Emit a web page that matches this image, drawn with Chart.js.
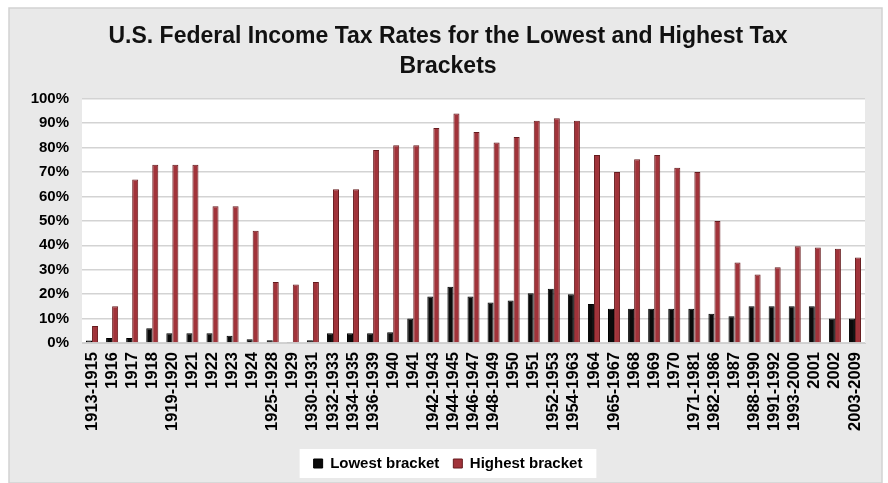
<!DOCTYPE html>
<html>
<head>
<meta charset="utf-8">
<script src="https://cdn.jsdelivr.net/npm/chart.js@4.4.3/dist/chart.umd.min.js"></script>
<style>
  html, body { margin: 0; padding: 0; background: #fff; }
  #wrap { width: 888px; height: 483px; }
</style>
</head>
<body>
<div id="wrap"><canvas id="taxChart" width="888" height="483"></canvas></div>
<script>
const years = [
  '1913-1915', '1916', '1917', '1918', '1919-1920', '1921', '1922', '1923', '1924', '1925-1928',
  '1929', '1930-1931', '1932-1933', '1934-1935', '1936-1939', '1940', '1941', '1942-1943', '1944-1945', '1946-1947',
  '1948-1949', '1950', '1951', '1952-1953', '1954-1963', '1964', '1965-1967', '1968', '1969', '1970',
  '1971-1981', '1982-1986', '1987', '1988-1990', '1991-1992', '1993-2000', '2001', '2002', '2003-2009'
];
const lowestRate = [
  1, 2, 2, 6, 4, 4, 4, 3, 1.5, 1.125,
  0.375, 1.125, 4, 4, 4, 4.4, 10, 19, 23, 19,
  16.6, 17.4, 20.4, 22.2, 20, 16, 14, 14, 14, 14,
  14, 12, 11, 15, 15, 15, 15, 10, 10
];
const highestRate = [
  7, 15, 67, 73, 73, 73, 56, 56, 46, 25,
  24, 25, 63, 63, 79, 81, 81, 88, 94, 86.45,
  82.13, 84.36, 91, 92, 91, 77, 70, 75.25, 77, 71.75,
  70, 50, 33, 28, 31, 39.6, 39.1, 38.6, 35
];

const FONT = "'Liberation Sans', Arial, sans-serif";

// gray panel, white plot area, white legend box
const backdrop = {
  id: 'backdrop',
  beforeDraw(chart) {
    const { ctx, chartArea: a, width, height } = chart;
    ctx.save();
    ctx.fillStyle = '#fff';
    ctx.fillRect(0, 0, width, height);
    ctx.fillStyle = '#e9e9e9';
    ctx.fillRect(9, 8, 873, height - 8);
    ctx.strokeStyle = '#d2d2d2';
    ctx.lineWidth = 1.5;
    ctx.strokeRect(9, 8, 873, height - 8);
    ctx.fillStyle = '#fff';
    ctx.fillRect(a.left, a.top, a.right - a.left, a.bottom - a.top);

    const boxes = chart.legend.legendHitBoxes;
    if (boxes && boxes.length) {
      const l = Math.min(...boxes.map(b => b.left)) - 14;
      const r = Math.max(...boxes.map(b => b.left + b.width)) + 14;
      const t = Math.min(...boxes.map(b => b.top)) - 7;
      const b = Math.max(...boxes.map(b => b.top + b.height)) + 7;
      ctx.fillRect(l, t, r - l, b - t);
    }
    ctx.restore();
  }
};

new Chart(document.getElementById('taxChart'), {
  type: 'bar',
  data: {
    labels: years,
    datasets: [
      {
        label: 'Lowest bracket',
        data: lowestRate,
        backgroundColor: '#0a0a0a',
        borderColor: '#000',
        borderWidth: 1
      },
      {
        label: 'Highest bracket',
        data: highestRate,
        backgroundColor: '#a1333a',
        borderColor: '#661b1e',
        borderWidth: 1
      }
    ]
  },
  options: {
    responsive: false,
    animation: false,
    layout: { padding: { left: 31, right: 23, top: 10, bottom: 2 } },
    datasets: {
      bar: { categoryPercentage: 0.6, barPercentage: 1.0 }
    },
    plugins: {
      title: {
        display: true,
        text: ['U.S. Federal Income Tax Rates for the Lowest and Highest Tax', 'Brackets'],
        color: '#111',
        font: { family: FONT, size: 23, weight: 'bold', lineHeight: 1.3 },
        padding: { top: 12, bottom: 17 }
      },
      legend: {
        position: 'bottom',
        labels: {
          color: '#000',
          font: { family: FONT, size: 15, weight: 'bold' },
          boxWidth: 9,
          boxHeight: 9,
          padding: 14
        }
      },
      tooltip: { enabled: false }
    },
    scales: {
      x: {
        grid: { display: false, drawTicks: false },
        border: { color: '#cfcfcf' },
        ticks: {
          color: '#000',
          font: { family: FONT, size: 16.5, weight: 'bold' },
          maxRotation: 90,
          minRotation: 90,
          autoSkip: false,
          padding: 9
        },
        afterFit(scale) { scale.height = 99; }
      },
      y: {
        min: 0,
        max: 100,
        grid: { color: '#d3d3d3', lineWidth: 1.5, drawTicks: false },
        border: { display: false },
        ticks: {
          stepSize: 10,
          color: '#000',
          font: { family: FONT, size: 15, weight: 'bold' },
          padding: 13,
          callback: v => v + '%'
        },
        afterFit(scale) { scale.width = 51; }
      }
    }
  },
  plugins: [backdrop]
});
</script>
</body>
</html>
